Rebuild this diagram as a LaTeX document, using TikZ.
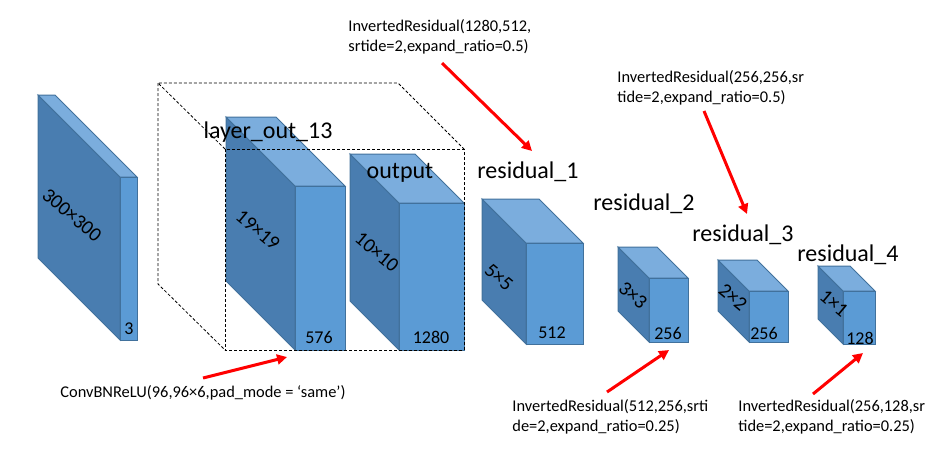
\documentclass[tikz,border=0pt]{standalone}
\usepackage{fontspec}
\setmainfont{Carlito}
\usetikzlibrary{arrows.meta}

\definecolor{frontblue}{HTML}{5B9BD5}
\definecolor{sideblue}{HTML}{497DB0}
\definecolor{topblue}{HTML}{7BADDD}
\definecolor{edgeblue}{HTML}{41719C}

% front face x1,x2, top y, bottom y, depth
\newcommand{\blk}[5]{%
\filldraw[face, fill=sideblue] (#1,#3) -- (#1-#5,#3-#5) -- (#1-#5,#4-#5) -- (#1,#4) -- cycle;
\filldraw[face, fill=topblue] (#1,#3) -- (#1-#5,#3-#5) -- (#2-#5,#3-#5) -- (#2,#3) -- cycle;
\filldraw[face, fill=frontblue] (#1,#3) rectangle (#2,#4);
}

\begin{document}
\begin{tikzpicture}[x=0.5pt, y=-0.5pt,
face/.style={draw=edgeblue, line width=0.5pt},
hull/.style={draw=black, dashed, dash pattern=on 1.5pt off 1pt, line width=0.4pt},
title/.style={inner sep=0pt, font=\fontsize{12}{14}\selectfont},
dim/.style={inner sep=0pt, rotate=-40, font=\fontsize{10}{12}\selectfont},
chan/.style={inner sep=0pt, font=\fontsize{9}{11}\selectfont},
note/.style={inner sep=0pt, anchor=west, align=left, font=\fontsize{8.2}{10}\selectfont},
redarrow/.style={red, line width=1.5pt, -{Triangle[length=5pt, width=5pt]}}]
\begin{scope}[scale=1]
\useasboundingbox (0,0) rectangle (951,457);

% dashed hull, back edges
\draw[hull] (225,149) -- (158,83) -- (398,83) -- (464,149);
\draw[hull] (158,83) -- (158,284) -- (225,350);

% blocks
\blk{120}{137}{177}{340}{82}
\blk{295}{345}{186}{350}{69}
\blk{399}{464}{203}{350}{49}
\blk{526}{583}{243}{344}{44}
\blk{649}{688}{278}{342}{31}
\blk{749}{788}{291}{342}{31}
\blk{843}{875}{291}{344}{25}

% dashed hull, front face
\draw[hull] (225,149) rectangle (464,350);

\node[dim] (indim) at (72,215) {300×300};
\node[chan] (inch) at (129,329) {3};
\node[dim] (lodim) at (258,230) {19×19};
\node[chan] (loch) at (319,337) {576};
\node[dim] (outdim) at (377,252) {10×10};
\node[chan] (outch) at (431,337) {1280};
\node[dim] (resadim) at (499,277) {5×5};
\node[chan] (resach) at (552,333) {512};
\node[dim] (resbdim) at (633,295) {3×3};
\node[chan] (resbch) at (668,333) {256};
\node[dim] (rescdim) at (733,297) {2×2};
\node[chan] (rescch) at (764,333) {256};
\node[dim] (resddim) at (834,303) {1×1};
\node[chan] (resdch) at (860,338) {128};

\node[title] (lotitle) at (268,132) {layer\_out\_13};
\node[title] (outtitle) at (400,173) {output};
\node[title] (resatitle) at (528,172) {residual\_1};
\node[title] (resbtitle) at (644,204) {residual\_2};
\node[title] (resctitle) at (743,235) {residual\_3};
\node[title] (resdtitle) at (848,255) {residual\_4};

\node[note] (notea) at (348,37) {InvertedResidual(1280,512,\\srtide=2,expand\_ratio=0.5)};
\node[note] (noteb) at (617,88) {InvertedResidual(256,256,sr\\tide=2,expand\_ratio=0.5)};
\node[note] (notec) at (60,393) {ConvBNReLU(96,96×6,pad\_mode = ‘same’)};
\node[note] (noted) at (512,417) {InvertedResidual(512,256,srti\\de=2,expand\_ratio=0.25)};
\node[note] (notee) at (738,417) {InvertedResidual(256,128,sr\\tide=2,expand\_ratio=0.25)};

\coordinate (taila) at (442,63);  \coordinate (tipa) at (532,151);
\coordinate (tailb) at (704,111); \coordinate (tipb) at (747,214);
\coordinate (tailc) at (203,378); \coordinate (tipc) at (287,357);
\coordinate (taild) at (607,392); \coordinate (tipd) at (669,350);
\coordinate (taile) at (813,394); \coordinate (tipe) at (863,353);

\draw[redarrow] (taila) -- (tipa);
\draw[redarrow] (tailb) -- (tipb);
\draw[redarrow] (tailc) -- (tipc);
\draw[redarrow] (taild) -- (tipd);
\draw[redarrow] (taile) -- (tipe);

\end{scope}
\end{tikzpicture}
\end{document}
